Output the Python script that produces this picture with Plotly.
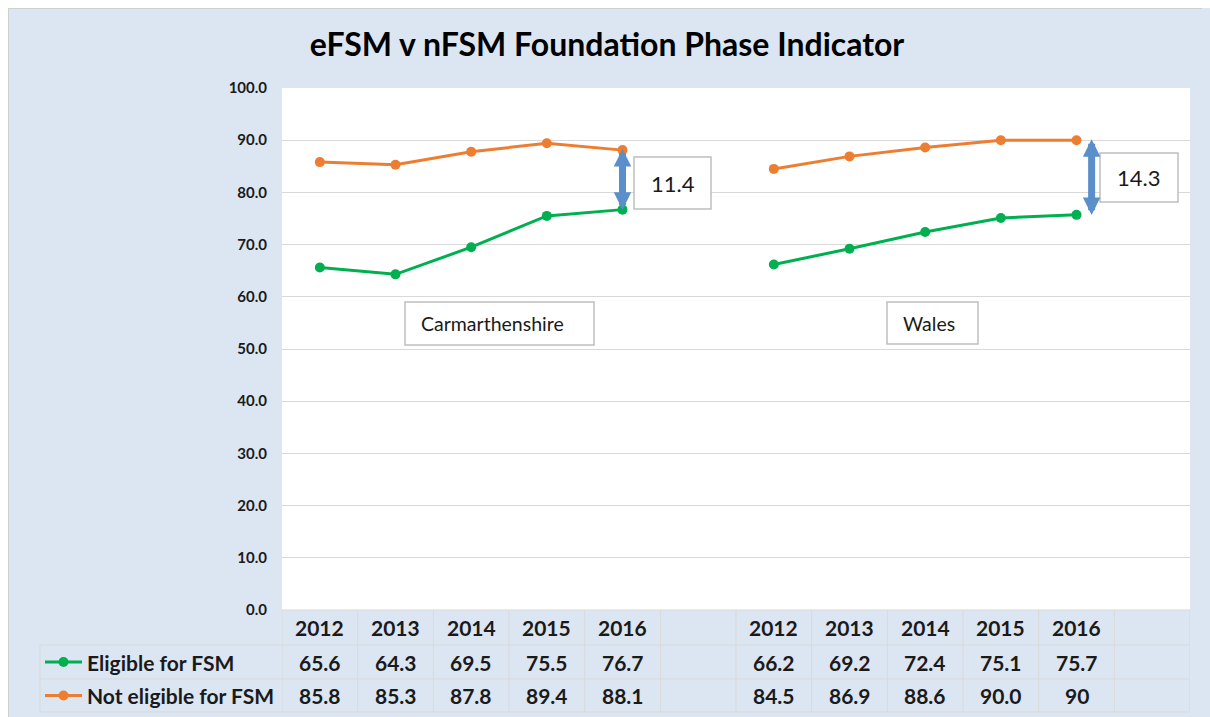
import plotly.graph_objects as go

# ---------------- data ----------------
years = ["2012", "2013", "2014", "2015", "2016"]
regions = ["Carmarthenshire", "Wales"]
series_names = ["Eligible for FSM", "Not eligible for FSM"]
carm_efsm = [65.6, 64.3, 69.5, 75.5, 76.7]
carm_nfsm = [85.8, 85.3, 87.8, 89.4, 88.1]
wales_efsm = [66.2, 69.2, 72.4, 75.1, 75.7]
wales_nfsm = [84.5, 86.9, 88.6, 90.0, 90.0]
efsm_labels = ["65.6", "64.3", "69.5", "75.5", "76.7", "", "66.2", "69.2", "72.4", "75.1", "75.7", ""]
nfsm_labels = ["85.8", "85.3", "87.8", "89.4", "88.1", "", "84.5", "86.9", "88.6", "90.0", "90", ""]
y_ticks = [0, 10, 20, 30, 40, 50, 60, 70, 80, 90, 100]

categories = years + [""] + years + [""]
xpos = list(range(len(categories)))
efsm = carm_efsm + [None] + wales_efsm + [None]
nfsm = carm_nfsm + [None] + wales_nfsm + [None]

GREEN = "#00B050"
ORANGE = "#ED7D31"
BLUE = "#5B8FC9"
BG = "#DCE6F2"
GRID = "#D9D9D9"
BOXLINE = "#BFBFBF"
FONT = "Lato"

# page offset (body margin) and geometry in screen pixels
OFF = 8
W, H = 1210 - OFF, 717 - OFF
PLOT_L, PLOT_R, PLOT_T, PLOT_B = 282, 1190, 88, 610   # screen pixels
L, R, T, B = PLOT_L - OFF, (W + OFF) - PLOT_R, PLOT_T - OFF, (H + OFF) - PLOT_B
PW, PH = PLOT_R - PLOT_L, PLOT_B - PLOT_T


def px_x(px):
    return (px - PLOT_L) / PW


def px_y(py):
    return (PLOT_B - py) / PH


fig = go.Figure()
fig.add_trace(go.Scatter(x=xpos, y=efsm, mode="lines+markers", name=series_names[0],
                         line=dict(color=GREEN, width=3), marker=dict(size=10, color=GREEN),
                         connectgaps=False, showlegend=False))
fig.add_trace(go.Scatter(x=xpos, y=nfsm, mode="lines+markers", name=series_names[1],
                         line=dict(color=ORANGE, width=3), marker=dict(size=10, color=ORANGE),
                         connectgaps=False, showlegend=False))

shapes = []
annotations = []

# shadow edge of the chart frame
shapes.append(dict(type="line", xref="paper", yref="paper", layer="below",
                   x0=px_x(OFF - 1), x1=px_x(W + OFF + 5), y0=px_y(OFF), y1=px_y(OFF),
                   line=dict(color="#D0D0D0", width=2)))
shapes.append(dict(type="line", xref="paper", yref="paper", layer="below",
                   x0=px_x(OFF), x1=px_x(OFF), y0=px_y(OFF - 1), y1=px_y(H + OFF + 5),
                   line=dict(color="#D0D0D0", width=2)))

# ---------------- data table ----------------
row_hdr_top, row1_top, row2_top, tbl_bot = 610, 645, 679, 712
tbl_left = 40
line_style = dict(color=GRID, width=1)
shapes.append(dict(type="line", xref="paper", yref="paper", x0=0, x1=1,
                   y0=px_y(row_hdr_top), y1=px_y(row_hdr_top), line=line_style))
for yy in (row1_top, row2_top, tbl_bot):
    shapes.append(dict(type="line", xref="paper", yref="paper", x0=px_x(tbl_left), x1=1,
                       y0=px_y(yy), y1=px_y(yy), line=line_style))
for i in range(len(categories) + 1):
    shapes.append(dict(type="line", xref="x", yref="paper", x0=i - 0.5, x1=i - 0.5,
                       y0=px_y(row_hdr_top), y1=px_y(tbl_bot), line=line_style))
shapes.append(dict(type="line", xref="paper", yref="paper", x0=px_x(tbl_left), x1=px_x(tbl_left),
                   y0=px_y(row1_top), y1=px_y(tbl_bot), line=line_style))

row_centers = [(row_hdr_top + row1_top) / 2, (row1_top + row2_top) / 2, (row2_top + tbl_bot) / 2]
cell_font = dict(family=FONT, size=21, color="#1a1a1a")
for i, c in enumerate(categories):
    for yy, txt in zip(row_centers, [c, efsm_labels[i], nfsm_labels[i]]):
        if txt:
            annotations.append(dict(x=i, xref="x", y=px_y(yy), yref="paper", text="<b>%s</b>" % txt,
                                    showarrow=False, font=cell_font, xanchor="center", yanchor="middle"))

# legend keys inside table
for yy, col, name in zip(row_centers[1:], [GREEN, ORANGE], series_names):
    shapes.append(dict(type="line", xref="paper", yref="paper", x0=px_x(45), x1=px_x(82),
                       y0=px_y(yy), y1=px_y(yy), line=dict(color=col, width=3)))
    shapes.append(dict(type="circle", xref="paper", yref="paper", x0=px_x(58.5), x1=px_x(68.5),
                       y0=px_y(yy + 5), y1=px_y(yy - 5), fillcolor=col, line=dict(color=col, width=0)))
    annotations.append(dict(x=px_x(85), xref="paper", y=px_y(yy), yref="paper", text="<b>%s</b>" % name,
                            showarrow=False, font=cell_font, xanchor="left", yanchor="middle"))


# ---------------- text boxes (region labels and gap labels) ----------------
def text_box(x0, x1, y0, y1, text_left, text, size):
    shapes.append(dict(type="rect", xref="paper", yref="paper",
                       x0=px_x(x0), x1=px_x(x1), y0=px_y(y1), y1=px_y(y0),
                       fillcolor="white", line=dict(color=BOXLINE, width=1.5)))
    annotations.append(dict(x=px_x(text_left), xref="paper", y=px_y((y0 + y1) / 2), yref="paper",
                            text=text, showarrow=False, xanchor="left", yanchor="middle",
                            font=dict(family=FONT, size=size, color="#1a1a1a")))


text_box(405, 594, 302, 345, 419, regions[0], 19.5)
text_box(887, 978, 302, 344, 901, regions[1], 19.5)

# ---------------- gap arrows ----------------
for xa, e, n in [(4, carm_efsm, carm_nfsm), (10.2, wales_efsm, wales_nfsm)]:
    annotations.append(dict(x=xa, y=n[-1] + 0.2, xref="x", yref="y", ax=xa, ay=e[-1] - 0.3,
                            axref="x", ayref="y",
                            text="", showarrow=True, arrowhead=2, arrowside="end+start",
                            arrowsize=0.5, arrowwidth=7, arrowcolor=BLUE))

gap_carm = round(carm_nfsm[-1] - carm_efsm[-1], 1)
gap_wales = round(wales_nfsm[-1] - wales_efsm[-1], 1)
text_box(634, 711, 157, 209, 649, "%.1f" % gap_carm, 22)
text_box(1100, 1178, 153, 202, 1115, "%.1f" % gap_wales, 22)

fig.update_layout(
    width=W, height=H,
    margin=dict(l=L, r=R, t=T, b=B),
    paper_bgcolor=BG,
    plot_bgcolor="white",
    title=dict(text="<b>eFSM v nFSM Foundation Phase Indicator</b>", x=(607 - OFF) / W, xref="container",
               xanchor="center", y=1 - (45 - OFF) / H, yref="container", yanchor="middle",
               font=dict(family=FONT, size=32, color="#000000")),
    xaxis=dict(range=[-0.5, len(categories) - 0.5], showticklabels=False, showgrid=False,
               zeroline=False, showline=False, fixedrange=True),
    yaxis=dict(range=[0, 100], tickvals=y_ticks, tickformat=".1f", showgrid=True, gridcolor=GRID,
               gridwidth=1, zeroline=False, showline=False, ticks="", ticklabelstandoff=14,
               tickfont=dict(family=FONT, size=15, color="#1a1a1a", weight="bold")),
    shapes=shapes,
    annotations=annotations,
    showlegend=False,
)

page_bg = ("linear-gradient(to right, #ffffff 8px, rgba(0,0,0,0) 8px) no-repeat, "
           "linear-gradient(to bottom, #ffffff 8px, " + BG + " 8px) no-repeat")
fig.write_html("out.html", post_script=(
    "document.documentElement.style.overflow='hidden';"
    "document.body.style.overflow='hidden';"
    "document.documentElement.style.minHeight='100vh';"
    "document.documentElement.style.background=\"" + page_bg + "\";"))
